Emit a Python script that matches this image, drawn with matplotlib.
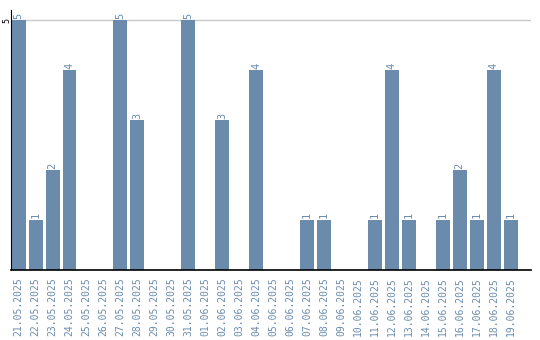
import matplotlib.pyplot as plt

dates = ["21.05.2025", "22.05.2025", "23.05.2025", "24.05.2025", "25.05.2025",
         "26.05.2025", "27.05.2025", "28.05.2025", "29.05.2025", "30.05.2025",
         "31.05.2025", "01.06.2025", "02.06.2025", "03.06.2025", "04.06.2025",
         "05.06.2025", "06.06.2025", "07.06.2025", "08.06.2025", "09.06.2025",
         "10.06.2025", "11.06.2025", "12.06.2025", "13.06.2025", "14.06.2025",
         "15.06.2025", "16.06.2025", "17.06.2025", "18.06.2025", "19.06.2025"]
counts = [5, 1, 2, 4, 0, 0, 5, 3, 0, 0,
          5, 0, 3, 0, 4, 0, 0, 1, 1, 0,
          0, 1, 4, 1, 0, 1, 2, 1, 4, 1]

bar_color = "#6b8bac"
text_color = "#6b8cae"

fig = plt.figure(figsize=(5.4, 3.4), dpi=100)
ax = fig.add_axes([11 / 540, 70 / 340, 520 / 540, 260 / 340])

x = list(range(len(dates)))
ax.bar(x, counts, width=0.82, color=bar_color, zorder=2)

# value labels above each non-empty bar
for xi, v in zip(x, counts):
    if v > 0:
        ax.text(xi, v + 0.03, str(v), rotation=90, ha="center", va="bottom",
                fontsize=7.5, color=text_color, family="DejaVu Sans Mono")

ax.set_xlim(-0.45, 30.2)
ax.set_ylim(0, 5.2)
ax.set_xticks(x)
ax.set_xticklabels(dates, rotation=90, fontsize=7, color=text_color,
                   family="DejaVu Sans Mono")
ax.set_yticks([5])
ax.set_yticklabels(["5"], rotation=90, fontsize=6, va="center",
                   family="DejaVu Sans Mono")
ax.tick_params(axis="x", length=0, pad=5)
ax.tick_params(axis="y", length=0, pad=0)
ax.grid(axis="y", color="#c8c8c8", linewidth=1, zorder=1)

for s in ["top", "right"]:
    ax.spines[s].set_visible(False)
ax.spines["left"].set_color("black")
ax.spines["bottom"].set_color("black")
ax.spines["bottom"].set_linewidth(1.2)

fig.savefig("out.png", dpi=100)
